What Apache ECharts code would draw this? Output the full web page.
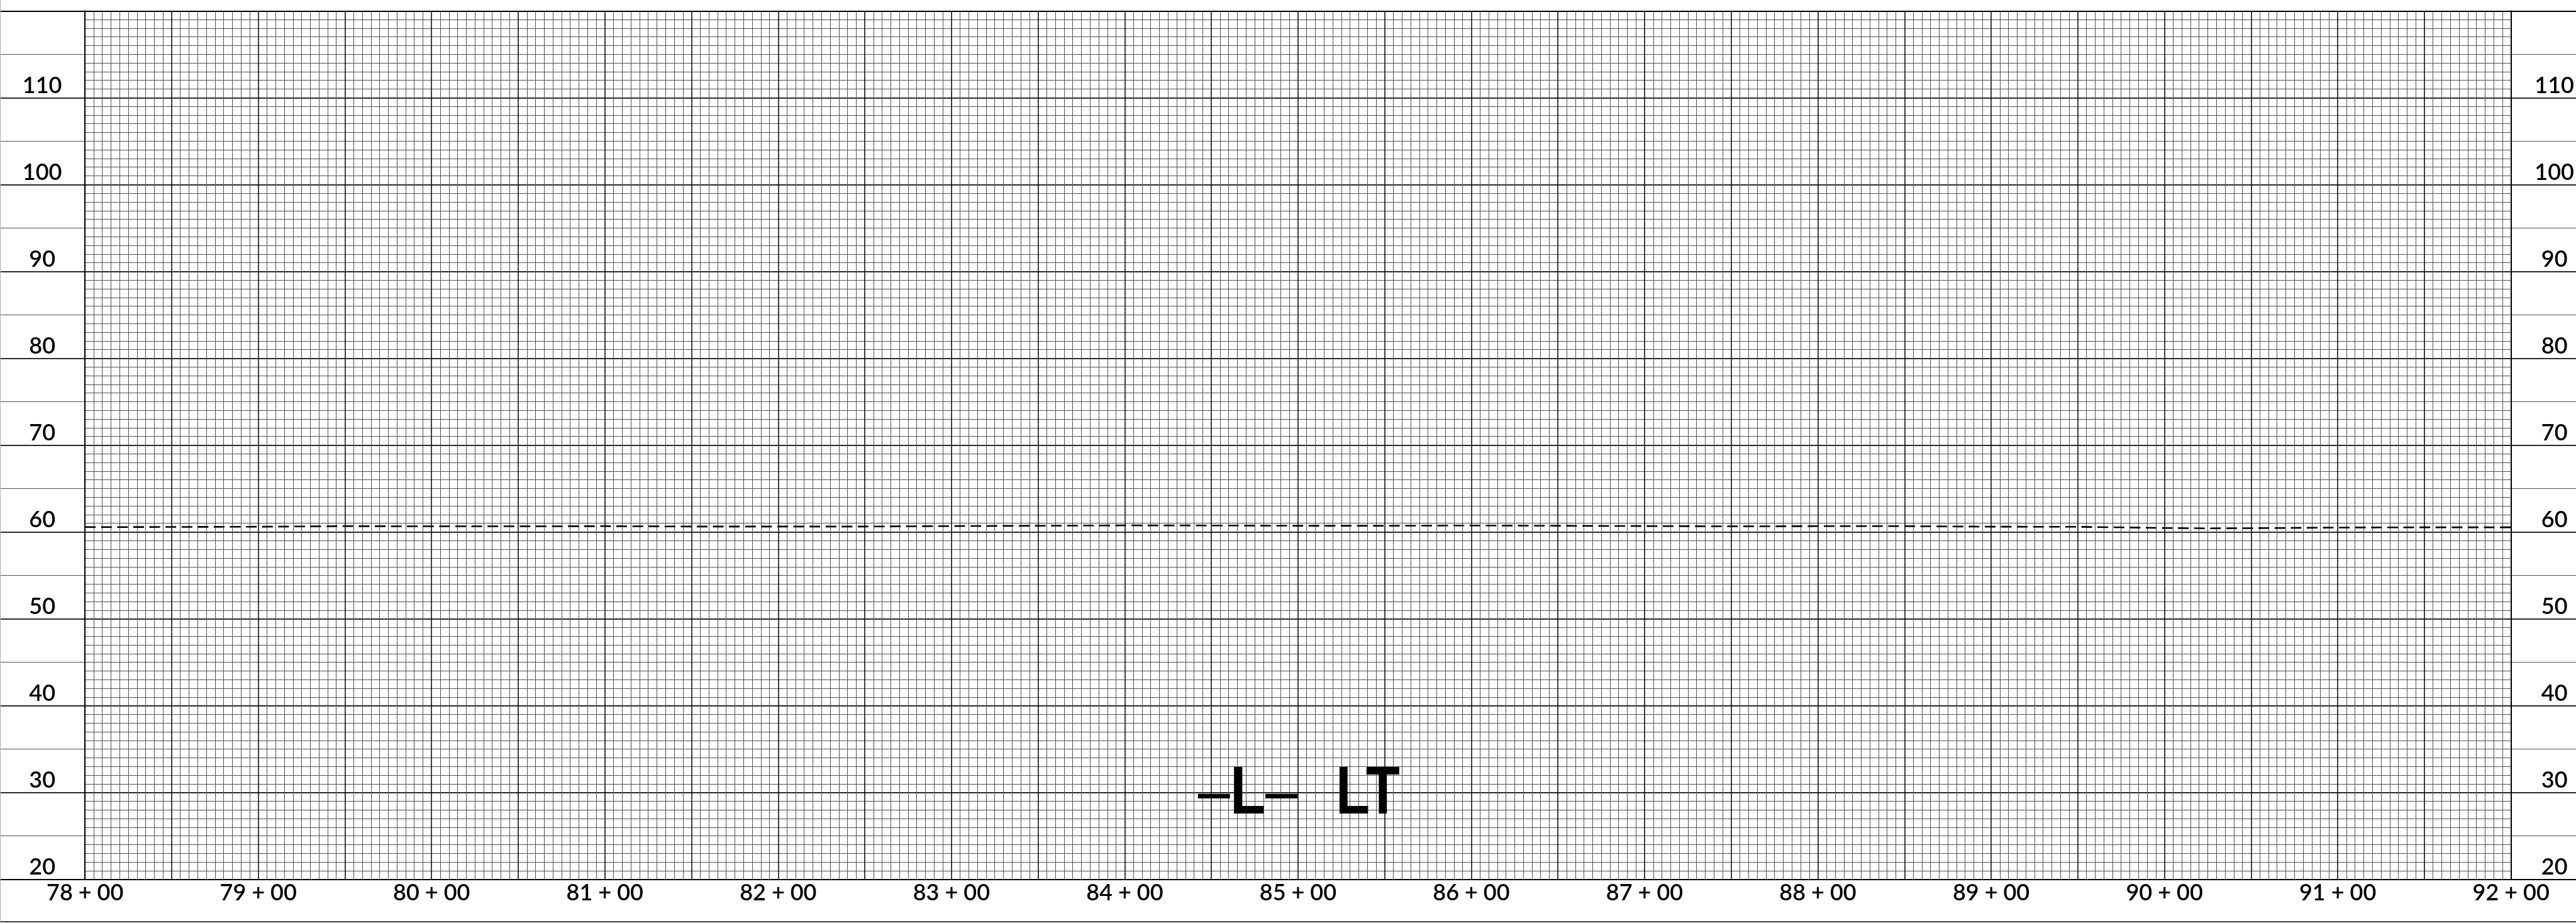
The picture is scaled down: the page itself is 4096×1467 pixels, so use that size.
<!DOCTYPE html>
<html>
<head>
<meta charset="utf-8">
<script src="https://cdn.jsdelivr.net/npm/echarts@6/dist/echarts.min.js"></script>
<style>
html,body{margin:0;padding:0;background:#fff;overflow:hidden}
#c{width:4096px;height:1467px;position:relative}
#edge{position:absolute;left:0;top:0;width:1px;height:1467px;background:#b0b0b0;z-index:5}
</style>
</head>
<body>
<div id="c"></div><div id="edge"></div>
<script>
// ---- data ----
const stations = [7800, 7850, 7900, 7950, 8000, 8050, 8100, 8150, 8200, 8250, 8300, 8350, 8400, 8450, 8500,
  8550, 8600, 8650, 8700, 8750, 8800, 8850, 8900, 8950, 9000, 9025, 9050, 9100, 9150, 9200];
const elevations = [60.56, 60.58, 60.61, 60.67, 60.65, 60.65, 60.67, 60.63, 60.63, 60.63, 60.68, 60.72, 60.76, 60.75, 60.72,
  60.72, 60.75, 60.72, 60.68, 60.65, 60.67, 60.67, 60.61, 60.60, 60.46, 60.42, 60.44, 60.51, 60.54, 60.54];
const stationTickLabels = ['78 + 00', '79 + 00', '80 + 00', '81 + 00', '82 + 00', '83 + 00', '84 + 00', '85 + 00',
  '86 + 00', '87 + 00', '88 + 00', '89 + 00', '90 + 00', '91 + 00', '92 + 00'];
const elevationTickLabels = ['20', '30', '40', '50', '60', '70', '80', '90', '100', '110'];
const noteDash = '\u2013';
const noteLine = 'L';
const noteSide = 'LT';
const noteAnchor = [8500, 27];

const X_MIN = 7800, X_MAX = 9200, Y_MIN = 20, Y_MAX = 120;

// ---- layout (scaled 0.719) ----
const S = 0.719;
const TOP = 24 * S, BOTTOM_Y = 1944 * S, H = 1467;
const PLOT_L = 188 * S, PLOT_R = 5566 * S, W = 4096;
const FONT = 'Lato, "Noto Sans", sans-serif';
const LABEL_WEIGHT = 600;
const MINOR = '#505050';

const xLabel = v => (v % 100 === 0 ? stationTickLabels[(v - X_MIN) / 100] : '');
const yLabel = v => {
  const i = (v - Y_MIN) / 10;
  return (Number.isInteger(i) && i < elevationTickLabels.length) ? elevationTickLabels[i] : '';
};

const hidden = { show: false };
const chart = echarts.init(document.getElementById('c'), null, { renderer: 'canvas' });

const option = {
  backgroundColor: '#fff',
  animation: false,
  grid: [
    { left: 0, right: 0, top: TOP, bottom: H - BOTTOM_Y },
    { left: PLOT_L, right: W - PLOT_R, top: TOP, bottom: H - BOTTOM_Y }
  ],
  xAxis: [
    { gridIndex: 0, type: 'value', min: 0, max: 1, position: 'bottom',
      axisLine: { show: true, lineStyle: { color: '#000', width: 2 } },
      axisTick: hidden, axisLabel: hidden, splitLine: hidden },
    { gridIndex: 0, type: 'value', min: 0, max: 1, position: 'top',
      axisLine: { show: true, lineStyle: { color: '#000', width: 2 } },
      axisTick: hidden, axisLabel: hidden, splitLine: hidden },
    { gridIndex: 0, type: 'value', min: 0, max: 1, position: 'bottom', offset: 2037 * S - BOTTOM_Y,
      axisLine: { show: true, lineStyle: { color: '#000', width: 1.5 } },
      axisTick: hidden, axisLabel: hidden, splitLine: hidden },
    { gridIndex: 1, type: 'value', min: X_MIN, max: X_MAX, interval: 50, position: 'bottom',
      axisLine: hidden, axisTick: hidden,
      axisLabel: { show: true, formatter: xLabel, margin: 22, verticalAlign: 'middle',
        fontFamily: FONT, fontWeight: LABEL_WEIGHT, fontSize: 36, color: '#000' },
      splitLine: { show: true, lineStyle: { color: '#000', width: 1.5 } },
      minorTick: { show: false, splitNumber: 10 },
      minorSplitLine: { show: true, lineStyle: { color: MINOR, width: 1 } } }
  ],
  yAxis: [
    { gridIndex: 0, type: 'value', min: Y_MIN, max: Y_MAX, interval: 5, position: 'left',
      axisLine: hidden, axisTick: hidden, axisLabel: hidden,
      splitLine: { show: true, lineStyle: { color: MINOR, width: 1 } } },
    { gridIndex: 0, type: 'value', min: Y_MIN, max: Y_MAX, interval: 10, position: 'right',
      axisLine: hidden, axisTick: hidden, axisLabel: hidden,
      splitLine: { show: true, lineStyle: { color: '#000', width: 1.5 } } },
    { gridIndex: 1, type: 'value', min: Y_MIN, max: Y_MAX, interval: 10, position: 'left',
      axisLine: { show: true, lineStyle: { color: '#000', width: 2 } }, axisTick: hidden,
      axisLabel: { show: true, formatter: yLabel, margin: 68, align: 'center', verticalAlign: 'bottom',
        lineHeight: 38, fontFamily: FONT, fontWeight: LABEL_WEIGHT, fontSize: 36, color: '#000', showMaxLabel: false },
      splitLine: hidden,
      minorTick: { show: false, splitNumber: 10 },
      minorSplitLine: { show: true, lineStyle: { color: MINOR, width: 1 } } },
    { gridIndex: 1, type: 'value', min: Y_MIN, max: Y_MAX, interval: 10, position: 'right',
      axisLine: { show: true, lineStyle: { color: '#000', width: 2 } }, axisTick: hidden,
      axisLabel: { show: true, formatter: yLabel, margin: 69, align: 'center', verticalAlign: 'bottom',
        lineHeight: 38, fontFamily: FONT, fontWeight: LABEL_WEIGHT, fontSize: 36, color: '#000' },
      splitLine: hidden }
  ],
  series: [
    { type: 'line', xAxisIndex: 3, yAxisIndex: 2, showSymbol: false, symbol: 'none', smooth: false,
      silent: true, z: 5,
      lineStyle: { color: '#000', width: 2.6, type: [17, 8.6], cap: 'butt' },
      data: stations.map((s, i) => [s, elevations[i]]) }
  ]
};
chart.setOption(option);

// annotation text, anchored in data coordinates
const p = chart.convertToPixel({ xAxisIndex: 3, yAxisIndex: 2 }, noteAnchor);
const NOTE_FS = 108;
const NOTE_FAMILY = '"Liberation Sans", Arial, sans-serif';
const yMid = p[1] - 0.3465 * NOTE_FS;
chart.setOption({
  graphic: [
    { type: 'text', x: p[0] - 80, y: yMid, scaleX: 0.85, z: 10,
      style: {
        text: '{d|' + noteDash + '}{l|' + noteLine + '}{d|' + noteDash + '}',
        fill: '#000', fontFamily: NOTE_FAMILY, fontSize: NOTE_FS,
        align: 'center', textAlign: 'center', verticalAlign: 'middle', textVerticalAlign: 'middle',
        rich: {
          d: { fontFamily: NOTE_FAMILY, fontSize: NOTE_FS, fontWeight: 'normal', fill: '#000' },
          l: { fontFamily: NOTE_FAMILY, fontSize: NOTE_FS, fontWeight: 'bold', fill: '#000' }
        }
      } },
    { type: 'text', x: p[0] + 111, y: yMid, scaleX: 0.82, z: 10,
      style: {
        text: noteSide, fill: '#000', fontFamily: NOTE_FAMILY, fontWeight: 'bold', fontSize: NOTE_FS,
        align: 'center', textAlign: 'center', verticalAlign: 'middle', textVerticalAlign: 'middle'
      } }
  ]
});
</script>
</body>
</html>
